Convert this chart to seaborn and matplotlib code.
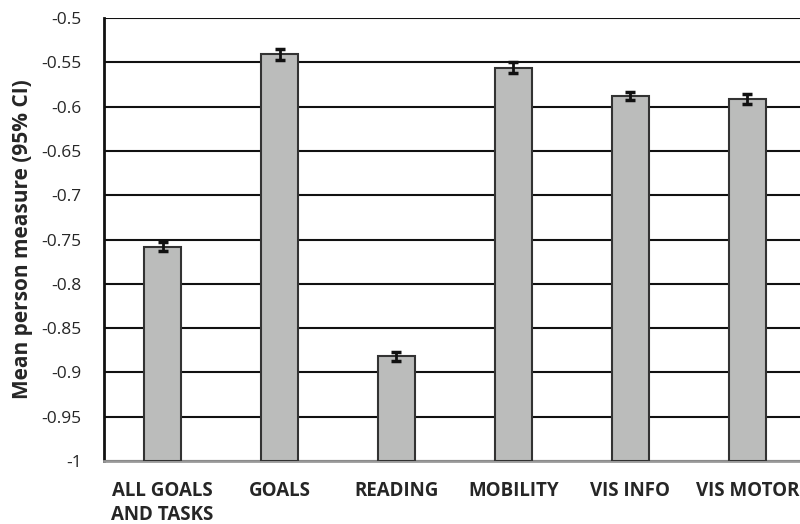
import matplotlib
matplotlib.use("Agg")
import matplotlib.pyplot as plt
import seaborn as sns
import pandas as pd
import numpy as np

categories = ["ALL GOALS\nAND TASKS", "GOALS", "READING", "MOBILITY", "VIS INFO", "VIS MOTOR"]
means = [-0.758, -0.541, -0.882, -0.556, -0.588, -0.591]
ci_half = [0.0055, 0.006, 0.0055, 0.006, 0.005, 0.0055]
y_ticks = [-1, -0.95, -0.9, -0.85, -0.8, -0.75, -0.7, -0.65, -0.6, -0.55, -0.5]
y_label = "Mean person measure (95% CI)"
baseline = -1.0

sns.set_style("white")
plt.rcParams['font.family'] = ['Open Sans', 'DejaVu Sans']

df = pd.DataFrame({"cat": categories, "mean": means})
df["height"] = [m - baseline for m in means]

fig = plt.figure(figsize=(8, 5.24), dpi=100)
ax = fig.add_axes([0.13, 0.1202, 0.8775, 0.8454])

sns.barplot(data=df, x="cat", y="height", ax=ax, color="#bbbcbb", saturation=1,
            width=0.32, edgecolor="#333333", linewidth=1.5, errorbar=None,
            bottom=baseline, zorder=3)
ax.errorbar(np.arange(len(categories)), means, yerr=ci_half, fmt="none",
            ecolor="#111111", elinewidth=2, capsize=3.5, capthick=2.5, zorder=4)

ax.set_ylim(-1, -0.5)
ax.set_xlim(-0.5, len(categories) - 0.5)
ax.set_yticks(y_ticks)
ax.set_yticklabels([f"{t:g}" for t in y_ticks], fontsize=12.5)
ax.yaxis.grid(True, color="#111111", linewidth=1.5)
ax.set_axisbelow(True)
ax.tick_params(axis="y", length=0, pad=16)
ax.tick_params(axis="x", length=0, pad=14.5)
for lbl in ax.get_xticklabels():
    lbl.set_fontsize(13.5)
    lbl.set_fontweight("bold")
    lbl.set_linespacing(1.28)
ax.set_xlabel("")
ax.set_ylabel(y_label, fontsize=15, fontweight="bold", labelpad=6)

for s in ["top", "right"]:
    ax.spines[s].set_visible(False)
ax.spines["left"].set_color("#111111")
ax.spines["left"].set_linewidth(2)
ax.spines["bottom"].set_color("#999999")
ax.spines["bottom"].set_linewidth(2)

fig.savefig("out.png", dpi=100)
